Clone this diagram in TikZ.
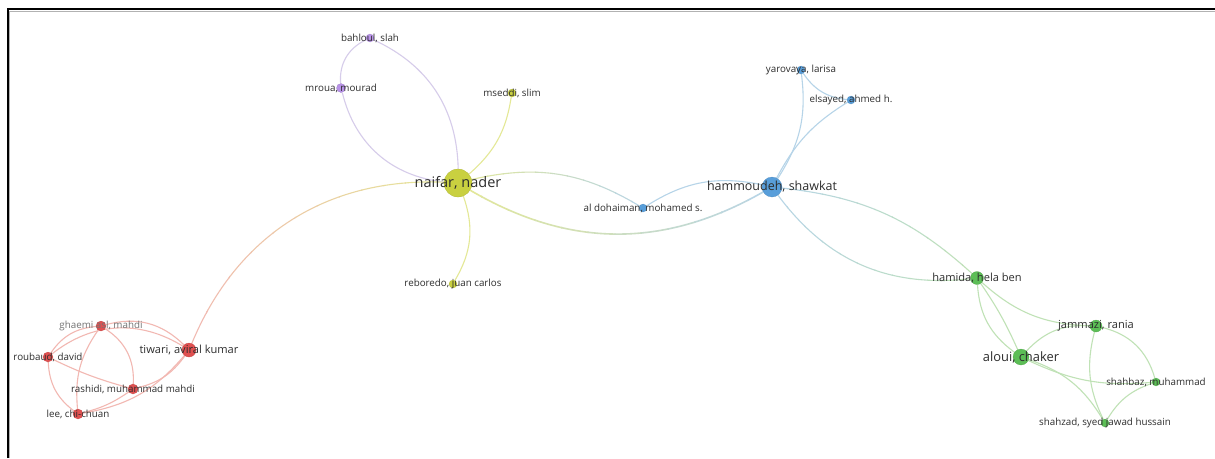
\documentclass[tikz,border=0pt]{standalone}
\usepackage{fontspec}
\setmainfont{Open Sans}
\usetikzlibrary{backgrounds}

% cluster colours
\definecolor{cyel}{RGB}{201,208,64}
\definecolor{cpur}{RGB}{184,146,232}
\definecolor{cblu}{RGB}{88,158,218}
\definecolor{cgrn}{RGB}{92,190,86}
\definecolor{cred}{RGB}{224,80,80}
% link colours
\definecolor{lyel}{RGB}{228,232,150}
\definecolor{lpur}{RGB}{214,204,234}
\definecolor{lblu}{RGB}{182,212,232}
\definecolor{lgrn}{RGB}{192,226,182}
\definecolor{lred}{RGB}{242,184,178}
\definecolor{ltxt}{RGB}{45,45,45}

\tikzset{
  dot/.style={circle, inner sep=0pt, fill=#1, draw=#1!85!black, line width=0.2pt},
  lbl/.style={inner sep=0pt, text=ltxt},
  small/.style={lbl, font=\fontsize{9.8}{11}\selectfont},
  medium/.style={lbl, font=\fontsize{11.1}{13}\selectfont},
  link/.style={line width=1.1pt, draw=#1},
}

% a link whose colour runs from #5 to #6 between x = #7 and x = #8
% #1 from, #2 to, #3 extra draw options, #4 to-path options
\newcommand\gradlink[8]{%
  \foreach \k in {0,...,11}{%
    \pgfmathsetmacro\xa{#7+(#8-#7)*\k/12}%
    \pgfmathsetmacro\xb{#7+(#8-#7)*(\k+1)/12}%
    \pgfmathsetmacro\xlo{min(\xa,\xb)-0.6}%
    \pgfmathsetmacro\xhi{max(\xa,\xb)+0.6}%
    \pgfmathtruncatemacro\pc{100-(\k+0.5)*100/12}%
    \begin{scope}
      \clip (\xlo,-50) rectangle (\xhi,520);
      \draw[link={#5!\pc!#6}, #3] (#1) to[#4] (#2);
    \end{scope}
  }%
}

\begin{document}
\begin{tikzpicture}[x=1pt, y=-1pt]
\useasboundingbox (0,0) rectangle (1215,458);

% ---- authors ----
\node[dot=cyel, minimum size=28pt] (naifar)   at (458,183) {};
\node[dot=cpur, minimum size=8pt]  (bahloul)  at (370,38)  {};
\node[dot=cpur, minimum size=9pt]  (mroua)    at (341,88)  {};
\node[dot=cyel, minimum size=8pt]  (mseddi)   at (512,93)  {};
\node[dot=cyel, minimum size=8pt]  (reboredo) at (453,284) {};
\node[dot=cblu, minimum size=20pt] (hammoudeh) at (772,187) {};
\node[dot=cblu, minimum size=8pt]  (dohaiman) at (643,208) {};
\node[dot=cblu, minimum size=8pt]  (yarovaya) at (801,70)  {};
\node[dot=cblu, minimum size=8pt]  (elsayed)  at (851,100) {};
\node[dot=cgrn, minimum size=13pt] (hamida)   at (977,278) {};
\node[dot=cgrn, minimum size=12pt] (jammazi)  at (1096,326) {};
\node[dot=cgrn, minimum size=16pt] (aloui)    at (1021,357) {};
\node[dot=cgrn, minimum size=8pt]  (shahbaz)  at (1156,382) {};
\node[dot=cgrn, minimum size=8pt]  (shahzad)  at (1105,423) {};
\node[dot=cred, minimum size=14pt] (tiwari)   at (189,350) {};
\node[dot=cred, minimum size=10pt] (ghaemi)   at (101,326) {};
\node[dot=cred, minimum size=10pt] (roubaud)  at (48,357)  {};
\node[dot=cred, minimum size=10pt] (rashidi)  at (133,389) {};
\node[dot=cred, minimum size=10pt] (lee)      at (78,414)  {};

% ---- co-authorship links ----
\begin{scope}[on background layer]
  \fill[white] (0,0) rectangle (1215,458);
  % naifar group
  \draw[link=lpur] (naifar) to[bend right=32] (bahloul);
  \draw[link=lpur] (naifar) to[bend left=35] (mroua);
  \draw[link=lpur] (bahloul) to[bend right=35] (mroua);
  \draw[link=lyel] (naifar) to[bend right=20] (mseddi);
  \draw[link=lyel] (naifar) to[bend left=25] (reboredo);
  \gradlink{naifar}{dohaiman}{}{bend left=22}{lyel}{lblu}{455}{648}
  \gradlink{naifar}{hammoudeh}{line width=1.6pt}{bend right=30}{lyel}{lblu}{455}{775}
  \gradlink{naifar}{tiwari}{}{bend right=35}{lyel}{lred}{450}{185}
  % hammoudeh group
  \draw[link=lblu] (dohaiman) to[bend left=22] (hammoudeh);
  \draw[link=lblu] (hammoudeh) to[bend right=20] (yarovaya);
  \draw[link=lblu] (hammoudeh) to[bend left=15] (elsayed);
  \draw[link=lblu] (yarovaya) to[bend right=25] (elsayed);
  \gradlink{hammoudeh}{hamida}{}{bend left=18}{lblu}{lgrn}{770}{980}
  \gradlink{hammoudeh}{hamida}{}{bend right=30}{lblu}{lgrn}{770}{980}
  % aloui group
  \draw[link=lgrn] (hamida) to[bend right=25] (aloui);
  \draw[link=lgrn] (hamida) to[bend left=5] (aloui);
  \draw[link=lgrn] (hamida) to[bend right=20] (jammazi);
  \draw[link=lgrn] (aloui) to[bend left=25] (jammazi);
  \draw[link=lgrn] (aloui) to[bend left=20] (shahzad);
  \draw[link=lgrn] (aloui) to[bend right=15] (shahbaz);
  \draw[link=lgrn] (jammazi) to[bend right=20] (shahzad);
  \draw[link=lgrn] (jammazi) to[bend left=30] (shahbaz);
  \draw[link=lgrn] (shahzad) to[bend left=20] (shahbaz);
  % tiwari group
  \draw[link=lred] (tiwari) to[bend right=30] (ghaemi);
  \draw[link=lred] (tiwari) to[bend right=35] (roubaud);
  \draw[link=lred] (tiwari) to[bend left=20] (rashidi);
  \draw[link=lred] (tiwari) to[bend left=20] (lee);
  \draw[link=lred] (ghaemi) to[bend left=30] (rashidi);
  \draw[link=lred] (ghaemi) to[bend right=20] (lee);
  \draw[link=lred] (ghaemi) to[bend right=25] (roubaud);
  \draw[link=lred] (roubaud) to[bend right=5] (rashidi);
  \draw[link=lred] (roubaud) to[bend right=25] (lee);
  \draw[link=lred] (rashidi) to[bend left=10] (lee);
\end{scope}

% ---- labels ----
\node[lbl, font=\fontsize{14.5}{16}\selectfont] at (naifar) {naifar, nader};
\node[small] at (bahloul) {bahloul, slah};
\node[small] at (mroua) {mroua, mourad};
\node[small] at (mseddi) {mseddi, slim};
\node[small] at (reboredo) {reboredo, juan carlos};
\node[lbl, font=\fontsize{12.5}{14}\selectfont] at (hammoudeh) {hammoudeh, shawkat};
\node[small] at (dohaiman) {al dohaiman, mohamed s.};
\node[small] at (yarovaya) {yarovaya, larisa};
\node[small] at (elsayed) {elsayed, ahmed h.};
\node[medium] at (hamida) {hamida, hela ben};
\node[medium] at (jammazi) {jammazi, rania};
\node[lbl, font=\fontsize{12.9}{14}\selectfont] at (aloui) {aloui, chaker};
\node[small] at (shahbaz) {shahbaz, muhammad};
\node[small] at (shahzad) {shahzad, syed jawad hussain};
\node[medium] at (tiwari) {tiwari, aviral kumar};
\node[small, text=black!55] at (ghaemi) {ghaemi asl, mahdi};
\node[small] at (roubaud) {roubaud, david};
\node[small] at (rashidi) {rashidi, muhammad mahdi};
\node[small] at (lee) {lee, chi-chuan};

% ---- frame edges ----
\draw[black!30, line width=1pt] (9.5,458) -- (9.5,11) -- (1215,11);
\draw[black, line width=2.2pt] (8,458) -- (8,9) -- (1215,9);
\end{tikzpicture}
\end{document}
